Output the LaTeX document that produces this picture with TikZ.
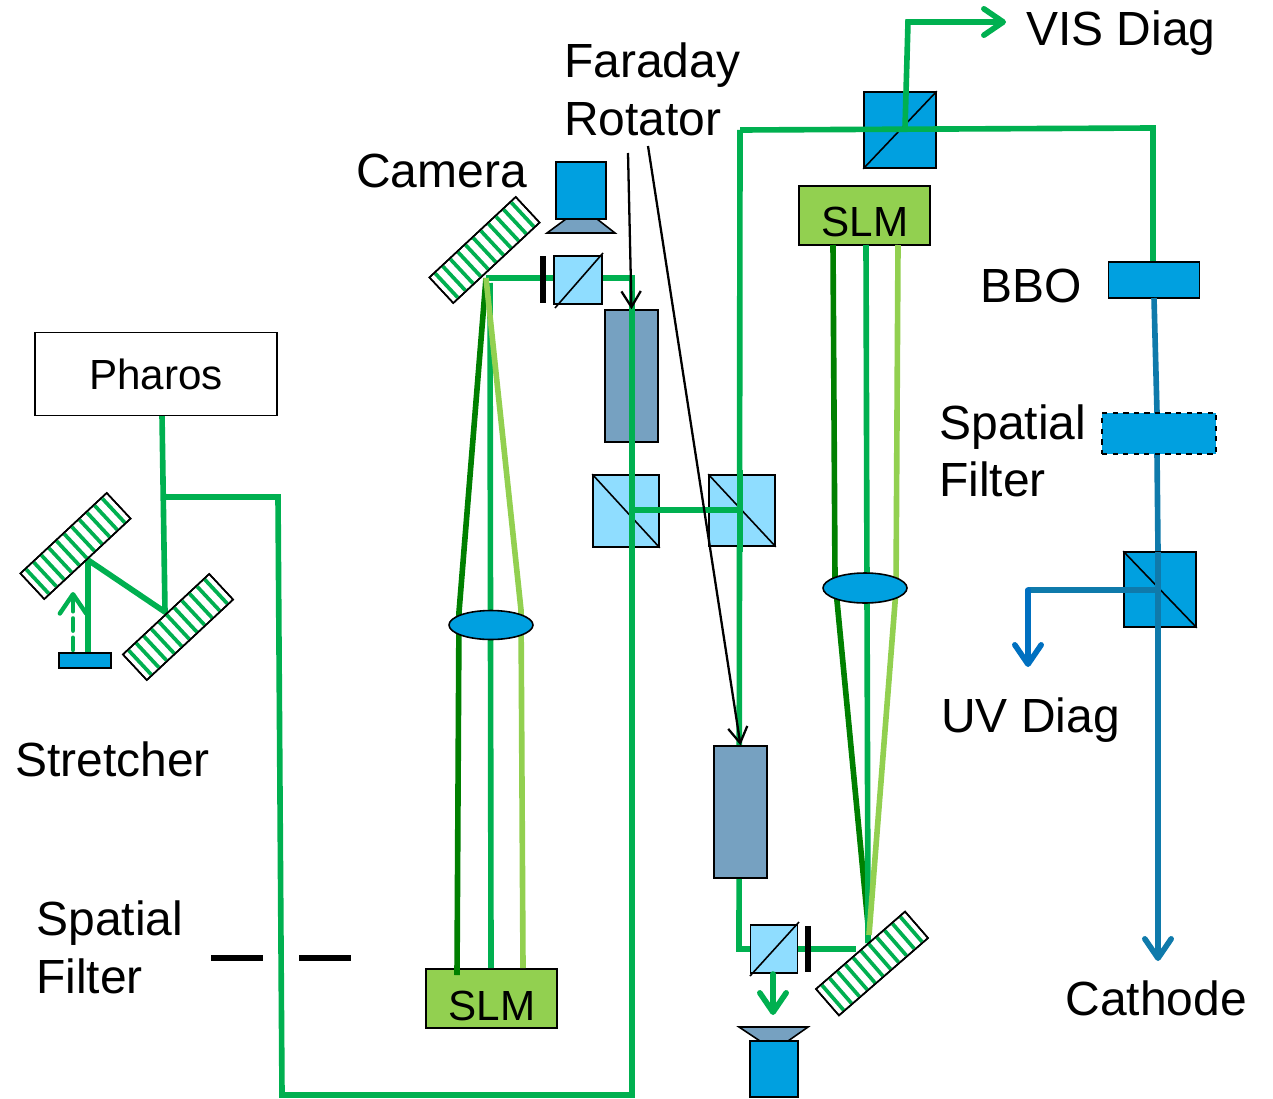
\documentclass[tikz,border=0pt]{standalone}
\usepackage{fontspec}
\setmainfont{Liberation Sans}
\usepackage{xcolor}
\usetikzlibrary{arrows.meta,calc,positioning,shapes.geometric}
\definecolor{beamgreen}{HTML}{00B050}
\definecolor{beamdark}{HTML}{008000}
\definecolor{beamlight}{HTML}{92D050}
\definecolor{beamblue}{HTML}{0F7AAB}
\definecolor{uvblue}{HTML}{0070C0}
\definecolor{optblue}{HTML}{00A0E0}
\definecolor{cubeblue}{HTML}{8FDDFF}
\definecolor{rotblue}{HTML}{76A1C1}
\tikzset{txt/.style={font=\fontsize{27.3}{33}\selectfont,inner sep=0pt,align=left,anchor=base west},
  smalltxt/.style={font=\fontsize{24}{28}\selectfont},
  optic/.style={draw,fill=optblue,line width=0.9pt,inner sep=0pt},
  cube/.style={optic,fill=cubeblue},
  rotator/.style={optic,fill=rotblue},
  slm/.style={optic,fill=beamlight},
  lens/.style={optic,ellipse},
  beam/.style={beamgreen,line width=3.2pt},
  uvbeam/.style={beamblue,line width=3.2pt},
  tip/.style={-{Straight Barb[length=11pt,width=15pt,round]}},
  arr/.style={tip,line cap=round},
  leader/.style={-{Straight Barb[length=9pt,width=11pt]},black,line width=1.3pt},
  thin line/.style={line width=0.9pt},
  stopbar/.style={line width=3.2pt,black},
  pics/grating/.style={code={
    \draw[fill=white,thin line] (-59,-17.5) rectangle (59,17.5);
    \foreach \gx in {-52,-41.6,...,52}{\draw[beamgreen,line width=2.1pt] (\gx,-16.5)--(\gx,16.5);}
    \draw[thin line] (-59,-17.5) rectangle (59,17.5);
  }}}
\begin{document}
\begin{tikzpicture}[x=0.02cm,y=-0.02cm]
\useasboundingbox (0,0) rectangle (1273,1098);
% beam points
\coordinate (hubA) at (486,278);
\coordinate (hubB) at (869,935);
\coordinate (pickUV) at (1160,590);
\coordinate (pickVIS) at (905,128);
% slm sit under their beams
\node[slm,minimum width=2.62cm,minimum height=1.18cm] (slmA) at (491.5,998.5) {};
\node[slm,minimum width=2.62cm,minimum height=1.18cm] (slmB) at (864.5,215.5) {};
% beams under the optics
\draw[beam] (162,415)--(165,612)--(88,560)--(88,653);
\draw[beam] (163,497)--(278,497)--(282,1095)--(632,1095)--(632,278)--(hubA);
\draw[beam] (740,130)--(739,949)--(752,949);
\draw[beam] (797,949)--(856,949);
\draw[beamgreen,line width=2.5pt,arr,dash pattern=on 7pt off 4pt] (73,650)--(73,592);
\draw[beam,beamdark] (hubA)--(459,612)--(457,975);
\draw[beam] (490,283)--(491,968);
\draw[beam,beamlight] (hubA)--(521,610)--(523,968);
\draw[beam,beamdark] (833,245)--(835,580)--(hubB);
\draw[beam] (866,245)--(868,943);
\draw[beam,beamlight] (898,245)--(896,590)--(hubB);
% gratings
\pic[rotate=43] at (75.5,546) {grating};
\pic[rotate=43] at (178,627) {grating};
\pic[rotate=43] at (484.5,250) {grating};
\pic[rotate=41] at (872,963.5) {grating};
% optics
\node[optic,fill=white,minimum width=4.84cm,minimum height=1.66cm,smalltxt] (pharos) at (156,374) {Pharos};
\node[optic,minimum width=1.04cm,minimum height=0.3cm] (crystal) at (85,660.5) {};
\node[lens,minimum width=1.68cm,minimum height=0.58cm] (lensA) at (491,625) {};
\node[lens,minimum width=1.68cm,minimum height=0.6cm] (lensB) at (865,588) {};
\node[cube,minimum width=0.96cm,minimum height=0.96cm] (cubeA) at (578,280) {};
\draw[thin line] (555,308)--(603,253);
\node[cube,minimum width=0.94cm,minimum height=0.96cm] (cubeB) at (774,949) {};
\draw[thin line] (750,976)--(799,922);
\draw[stopbar] (543,256)--(543,303);
\draw[stopbar] (808,926)--(808,972);
\node[cube,minimum width=1.32cm,minimum height=1.44cm] (cubeC) at (626,511) {};
\draw[thin line] (cubeC.north west)--(cubeC.south east);
\node[cube,minimum width=1.32cm,minimum height=1.42cm] (cubeD) at (742,510.5) {};
\draw[thin line] (cubeD.north west)--(cubeD.south east);
\draw[beam] (632,470)--(632,552);
\draw[beam] (740,470)--(740,552);
\draw[beam] (630,510)--(742,510);
\node[rotator,minimum width=1.06cm,minimum height=2.64cm] (rotA) at (631.5,376) {};
\draw[beam] (632,305)--(632,445);
\node[rotator,minimum width=1.06cm,minimum height=2.64cm] (rotB) at (740.5,812) {};
\node[optic,minimum width=1.44cm,minimum height=1.52cm] (cubeE) at (900,130) {};
\draw[thin line] (cubeE.south west)--(cubeE.north east);
\draw[beam] (740,130)--(1153,128)--(1153,262);
\draw[beam,tip] (pickVIS)--(908,22)--(1006,22);
\node[optic,minimum width=1.82cm,minimum height=0.72cm] (bbo) at (1154,280) {};
\draw[uvbeam] (1154,298)--(1157,413);
\draw[uvbeam] (1157,454)--(1158,552);
\node[optic,dashed,minimum width=2.28cm,minimum height=0.82cm] (filterB) at (1159,433.5) {};
\node[optic,minimum width=1.44cm,minimum height=1.5cm] (cubeF) at (1160,589.5) {};
\draw[thin line] (cubeF.north west)--(cubeF.south east);
\draw[uvbeam,tip] (1158,552)--(1158,961);
\draw[uvbeam] (pickUV)--(1028,590);
\draw[uvblue,line width=3.2pt,arr] (1028,590)--(1028,667);
\draw[beam,arr] (773,974)--(773,1015);
% cameras
\node[optic,minimum width=1cm,minimum height=1.14cm] (camA) at (581,190.5) {};
\draw[fill=rotblue,thin line] (566,219)--(597,219)--(615,233)--(547,233)--cycle;
\node[optic,minimum width=0.96cm,minimum height=1.12cm] (camB) at (774,1069) {};
\draw[fill=rotblue,thin line] (760,1041)--(788,1041)--(808,1027)--(739,1027)--cycle;
% spatial filter
\draw[stopbar] (211,958)--(263,958);
\draw[stopbar] (299,958)--(351,958);
% leaders
\coordinate (leadA) at (628,153);
\coordinate (leadB) at (648,146);
\draw[leader] (leadA)--(rotA.north);
\draw[leader] (leadB)--(rotB.north);
% text
\node[txt] (vis) at (1026,46) {VIS Diag};
\node[txt] (faraday) at (564,78) {Faraday};
\node[txt] (rotator) at (564,136) {Rotator};
\node[txt] (camera) at (356,188) {Camera};
\node[txt] (bbotext) at (980,302) {BBO};
\node[txt] (spatialB) at (939,439) {Spatial};
\node[txt] (filterBtext) at (939,496) {Filter};
\node[txt] (uv) at (941,732) {UV Diag};
\node[txt] (cathode) at (1065,1015) {Cathode};
\node[txt] (stretcher) at (15,776) {Stretcher};
\node[txt] (spatialA) at (36,935) {Spatial};
\node[txt] (filterAtext) at (36,993) {Filter};
\node[txt,anchor=center,smalltxt] (slmAtext) at (492,1006) {SLM};
\node[txt,anchor=center,smalltxt] (slmBtext) at (865,222) {SLM};
\end{tikzpicture}
\end{document}
